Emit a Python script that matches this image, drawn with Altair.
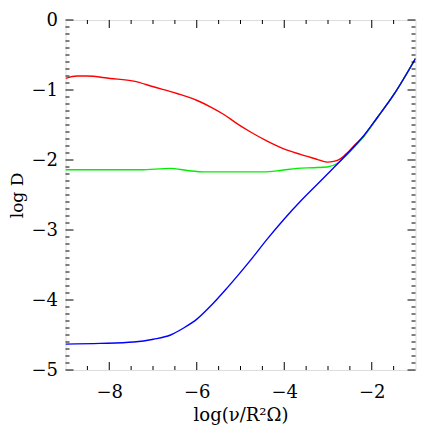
import altair as alt
import pandas as pd

# Curves (x = log(nu/R^2 Omega), y = log D)
red_x = [-9.0, -8.74, -8.51, -7.98, -7.44, -6.99, -6.45, -5.99, -5.69, -5.38, -5.08, -4.77,
         -4.39, -4.01, -3.63, -3.25, -3.02, -2.87, -2.71, -2.56, -2.41, -2.18, -1.88, -1.49, -1.0]
red_y = [-0.835, -0.80, -0.80, -0.835, -0.873, -0.954, -1.05, -1.15, -1.24, -1.35, -1.48, -1.60,
         -1.73, -1.84, -1.92, -1.99, -2.03, -2.02, -1.98, -1.90, -1.80, -1.66, -1.40, -1.06, -0.55]

green_x = [-9.0, -8.21, -7.29, -6.60, -6.22, -5.77, -5.16, -4.47, -4.09, -3.71, -3.33, -3.02,
           -2.79, -2.56, -2.33, -2.18, -1.88, -1.49, -1.0]
green_y = [-2.14, -2.14, -2.14, -2.12, -2.15, -2.17, -2.17, -2.17, -2.15, -2.12, -2.11, -2.10,
           -2.05, -1.92, -1.77, -1.66, -1.40, -1.06, -0.55]

blue_x = [-9.0, -8.21, -7.44, -6.99, -6.60, -6.30, -5.99, -5.69, -5.31, -4.77, -4.39, -4.01,
          -3.63, -3.25, -2.87, -2.56, -2.18, -1.88, -1.49, -1.0]
blue_y = [-4.63, -4.62, -4.60, -4.56, -4.50, -4.40, -4.27, -4.09, -3.83, -3.43, -3.13, -2.85,
          -2.59, -2.35, -2.11, -1.91, -1.65, -1.40, -1.06, -0.55]

series_names = ["red", "green", "blue"]
series_colors = ["#ff0000", "#00ee00", "#0000ff"]

x_major = [-8, -6, -4, -2]
x_minor = [-8.5, -7.5, -7, -6.5, -5.5, -5, -4.5, -3.5, -3, -2.5, -1.5]
y_major = [-5, -4, -3, -2, -1, 0]
y_minor = [round(-5 + 0.1 * i, 1) for i in range(51) if i % 10 != 0]

W, H = 350, 350
FONT = "DejaVu Serif"

rows = []
for name, xs, ys in [("red", red_x, red_y), ("green", green_x, green_y), ("blue", blue_x, blue_y)]:
    for i, (a, b) in enumerate(zip(xs, ys)):
        rows.append({"series": name, "x": a, "y": b, "order": i})
df = pd.DataFrame(rows)

xscale = alt.Scale(domain=[-9, -1], nice=False, zero=False)
yscale = alt.Scale(domain=[-5, 0], nice=False, zero=False)

lines = alt.Chart(df).mark_line(strokeWidth=1.4, interpolate="monotone", clip=True).encode(
    x=alt.X("x:Q", scale=xscale,
            axis=alt.Axis(title="log(ν/R²Ω)", values=x_major, format="d", ticks=False, domain=False,
                          grid=False, labelPadding=13, titlePadding=5,
                          labelFont=FONT, titleFont=FONT, labelFontSize=18, titleFontSize=18,
                          labelColor="black", titleColor="black", titleFontWeight="normal")),
    y=alt.Y("y:Q", scale=yscale,
            axis=alt.Axis(title="log D", values=y_major, format="d", ticks=False, domain=False,
                          grid=False, labelPadding=8, titlePadding=4,
                          labelFont=FONT, titleFont=FONT, labelFontSize=18, titleFontSize=17,
                          labelColor="black", titleColor="black", titleFontWeight="normal")),
    color=alt.Color("series:N", scale=alt.Scale(domain=series_names, range=series_colors), legend=None),
    detail="series:N",
    order="order:Q",
)

def xticks(vals, length):
    d = pd.DataFrame({"v": vals})
    bottom = alt.Chart(d).mark_rule(color="black", strokeWidth=1).encode(
        x=alt.X("v:Q", scale=xscale, axis=None), y=alt.value(H), y2=alt.value(H - length))
    top = alt.Chart(d).mark_rule(color="black", strokeWidth=1).encode(
        x=alt.X("v:Q", scale=xscale, axis=None), y=alt.value(0), y2=alt.value(length))
    return [bottom, top]

def yticks(vals, length):
    d = pd.DataFrame({"v": vals})
    left = alt.Chart(d).mark_rule(color="black", strokeWidth=1).encode(
        y=alt.Y("v:Q", scale=yscale, axis=None), x=alt.value(0), x2=alt.value(length))
    right = alt.Chart(d).mark_rule(color="black", strokeWidth=1).encode(
        y=alt.Y("v:Q", scale=yscale, axis=None), x=alt.value(W), x2=alt.value(W - length))
    return [left, right]

chart = alt.layer(
    lines,
    *xticks(x_major, 8), *xticks(x_minor, 4),
    *yticks(y_major, 8), *yticks(y_minor, 4),
).resolve_axis(
    x="independent", y="independent"
).properties(
    width=W, height=H,
    autosize=alt.AutoSizeParams(type="none"),
    padding={"left": 57.5, "top": 12, "right": 12, "bottom": 58},
).configure_view(
    stroke="black", strokeWidth=1.5
).configure(background="white")

chart.save("out.html", embed_options={"renderer": "svg", "actions": False})
